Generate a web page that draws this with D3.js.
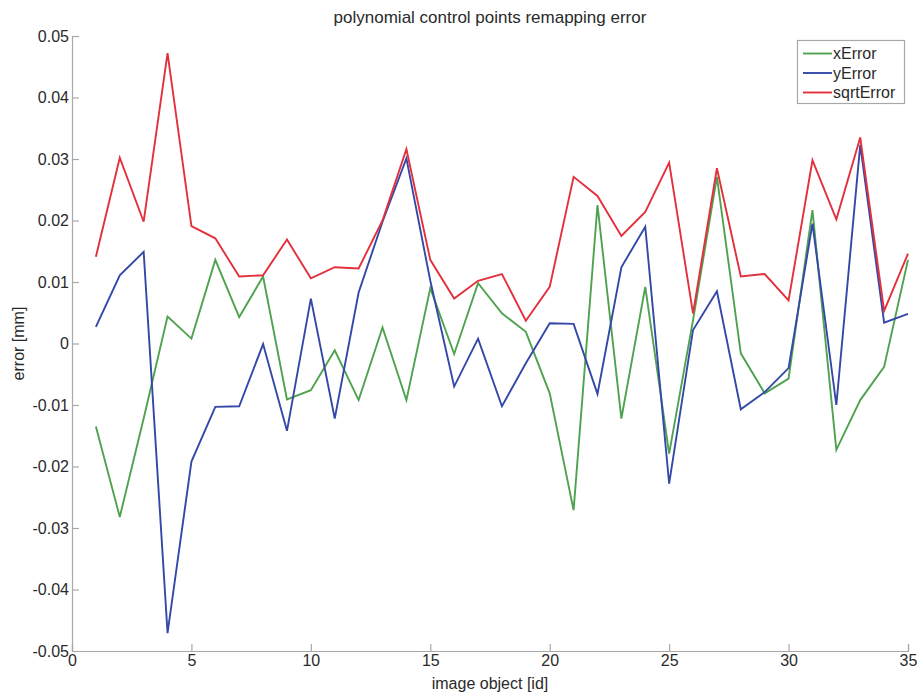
<!DOCTYPE html>
<html>
<head>
<meta charset="utf-8">
<script src="https://cdn.jsdelivr.net/npm/d3@7"></script>
<style>
  html, body { margin: 0; padding: 0; background: #fff; }
  svg { display: block; }
  text { font-family: Arial, "Liberation Sans", Helvetica, sans-serif; fill: #2a2a2a; }
</style>
</head>
<body>
<svg id="chart" width="920" height="692"></svg>
<script>
// Control point ids (x axis)
const ids = d3.range(1, 36);

// Remapping error per control point, in mm
const xError = [-0.0135, -0.0282, -0.0122, 0.0044, 0.0008, 0.0136, 0.0043, 0.0109, -0.0091, -0.0076,
                -0.0011, -0.0092, 0.0026, -0.0092, 0.0090, -0.0017, 0.0098, 0.0049, 0.0019, -0.0081,
                -0.0271, 0.0225, -0.0122, 0.0092, -0.0179, 0.0038, 0.0271, -0.0016, -0.0081, -0.0057,
                0.0217, -0.0173, -0.0092, -0.0038, 0.0136];
const yError = [0.0027, 0.0111, 0.0149, -0.0471, -0.0192, -0.0103, -0.0102, -0.0001, -0.0142, 0.0073,
                -0.0122, 0.0083, 0.0198, 0.0301, 0.0102, -0.0070, 0.0008, -0.0102, -0.0032, 0.0033,
                0.0032, -0.0082, 0.0124, 0.0190, -0.0228, 0.0022, 0.0085, -0.0107, -0.0079, -0.0040,
                0.0195, -0.0100, 0.0323, 0.0034, 0.0048];
const sqrtError = [0.0141, 0.0302, 0.0198, 0.0472, 0.0191, 0.0171, 0.0109, 0.0111, 0.0169, 0.0106,
                   0.0124, 0.0122, 0.0200, 0.0316, 0.0136, 0.0073, 0.0102, 0.0113, 0.0037, 0.0092,
                   0.0271, 0.0240, 0.0175, 0.0214, 0.0294, 0.0049, 0.0285, 0.0109, 0.0113, 0.0070,
                   0.0298, 0.0202, 0.0335, 0.0053, 0.0146];

// Axis ticks
const xTicks = [0, 5, 10, 15, 20, 25, 30, 35];
const yTicks = [-0.05, -0.04, -0.03, -0.02, -0.01, 0, 0.01, 0.02, 0.03, 0.04, 0.05];

const seriesNames = ["xError", "yError", "sqrtError"];
const seriesValues = [xError, yError, sqrtError];
const seriesColors = ["#4fa24f", "#3448a8", "#e2303c"];

const svg = d3.select("#chart");
const plotLeft = 72, plotRight = 908, plotTop = 36, plotBottom = 651;

const x = d3.scaleLinear().domain([0, 35]).range([plotLeft, plotRight]);
const y = d3.scaleLinear().domain([-0.05, 0.05]).range([plotBottom, plotTop]);

const fmtY = d => d === 0 ? "0" : (d < 0 ? "-" : "") + d3.format(".2f")(Math.abs(d));

// Axes: ticks point into the plot area
const gx = svg.append("g")
  .attr("transform", `translate(0,${plotBottom})`)
  .call(d3.axisBottom(x).tickValues(xTicks).tickSize(-7).tickPadding(4).tickFormat(d3.format("d")));
const gy = svg.append("g")
  .attr("transform", `translate(${plotLeft},0)`)
  .call(d3.axisLeft(y).tickValues(yTicks).tickSize(-7).tickPadding(3).tickFormat(fmtY));

[gx, gy].forEach(g => {
  g.select(".domain").attr("stroke", "#a8a8a8").attr("stroke-width", 1.2);
  g.selectAll(".tick line").attr("stroke", "#a8a8a8").attr("stroke-width", 1.2);
  g.selectAll(".tick text").attr("font-size", 16).attr("fill", "#2a2a2a")
    .style("font-family", 'Arial, "Liberation Sans", Helvetica, sans-serif');
});

// Series lines
const line = d3.line().x((d, i) => x(ids[i])).y(d => y(d));
seriesValues.forEach((vals, k) => {
  svg.append("path")
    .datum(vals)
    .attr("fill", "none")
    .attr("stroke", seriesColors[k])
    .attr("stroke-width", 1.9)
    .attr("stroke-linejoin", "miter")
    .attr("d", line);
});

// Title and axis labels
svg.append("text")
  .attr("x", (plotLeft + plotRight) / 2).attr("y", 23)
  .attr("text-anchor", "middle").attr("font-size", 17)
  .text("polynomial control points remapping error");
svg.append("text")
  .attr("x", (plotLeft + plotRight) / 2).attr("y", 689)
  .attr("text-anchor", "middle").attr("font-size", 16)
  .text("image object [id]");
svg.append("text")
  .attr("transform", `translate(24,${(plotTop + plotBottom) / 2}) rotate(-90)`)
  .attr("text-anchor", "middle").attr("font-size", 16)
  .text("error [mm]");

// Legend
const lg = svg.append("g");
lg.append("rect")
  .attr("x", 797.5).attr("y", 40.5).attr("width", 107).attr("height", 63)
  .attr("fill", "#fff").attr("stroke", "#a8a8a8").attr("stroke-width", 1.2);
seriesNames.forEach((name, k) => {
  const yy = 53.5 + k * 19.5;
  lg.append("line")
    .attr("x1", 803).attr("x2", 832).attr("y1", yy).attr("y2", yy)
    .attr("stroke", seriesColors[k]).attr("stroke-width", 1.9);
  lg.append("text")
    .attr("x", 833).attr("y", yy).attr("dy", "0.36em")
    .attr("font-size", 16).text(name);
});
</script>
</body>
</html>
